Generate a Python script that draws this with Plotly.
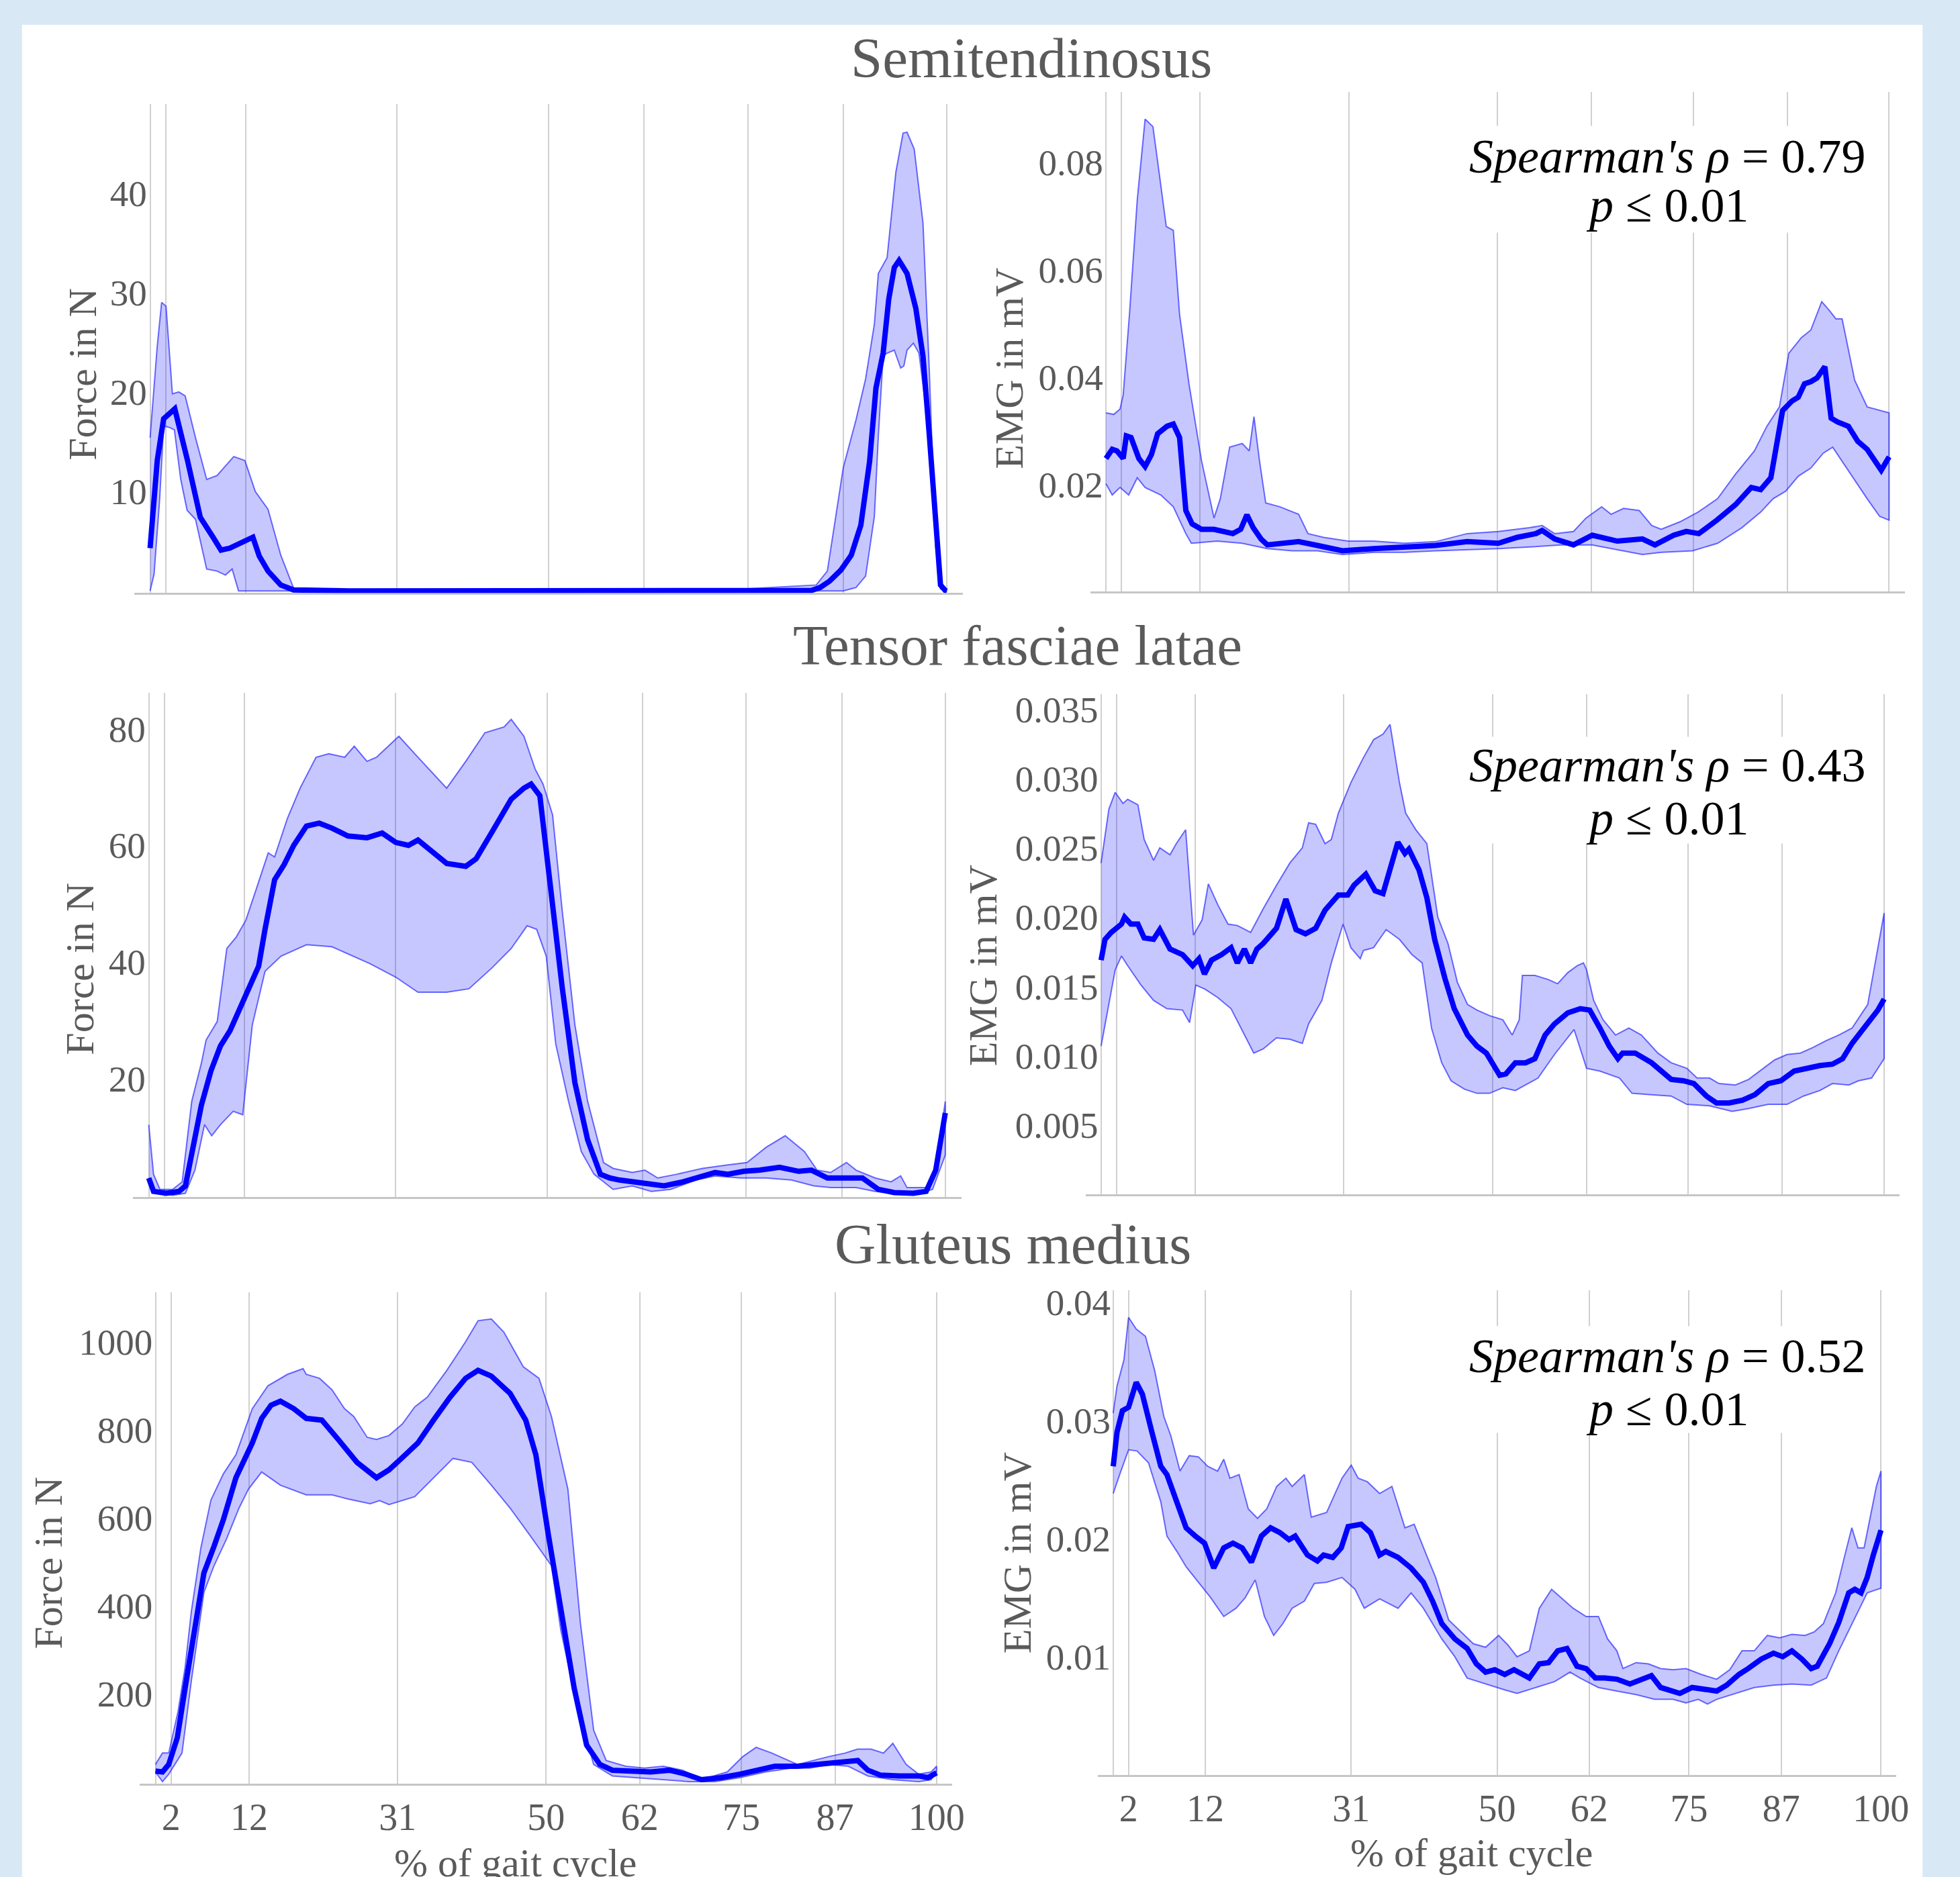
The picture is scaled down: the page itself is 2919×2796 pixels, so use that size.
import plotly.graph_objects as go

W, H = 2919, 2796

# ------------------------------------------------------------------ data
gait_ticks = [2, 12, 31, 50, 62, 75, 87, 100]

# Semitendinosus – force (N)
semi_force_mean_x = [0, 0.9, 1.7, 3.1, 4.7, 6.3, 7.9, 8.9, 10.0, 11.6, 12.9, 13.7, 14.8, 16.4, 18.0, 25, 35, 45, 55, 65,
                     75, 83.0, 84.1, 85.3, 86.7, 88.0, 89.2, 90.3, 91.1, 92.0, 92.7, 93.4, 94.0, 95.0, 96.1, 97.0, 97.8, 98.6, 99.2, 99.8, 100]
semi_force_mean_y = [4.3, 13.1, 17.3, 18.3, 13.1, 7.4, 5.4, 4.1, 4.3, 4.9, 5.4, 3.5, 2.0, 0.6, 0.1, 0, 0, 0, 0, 0,
                     0, 0.05, 0.35, 1.0, 2.1, 3.6, 6.6, 13.0, 20.4, 23.9, 29.3, 32.5, 33.2, 31.9, 28.4, 23.6, 15.6, 6.0, 0.6, 0.05, 0]
semi_force_up_x = [0, 0.9, 1.45, 2.0, 2.8, 3.6, 4.4, 5.7, 7.1, 8.4, 10.5, 11.9, 13.2, 14.8, 16.4, 18.0, 30, 50, 70, 83.6,
                   85.0, 87.0, 88.6, 89.8, 90.9, 91.4, 92.5, 93.6, 94.5, 95.0, 95.9, 97.0, 97.8, 98.6, 99.2, 100]
semi_force_up_y = [15.4, 24.6, 29.0, 28.6, 19.8, 20.0, 19.6, 15.4, 11.2, 11.6, 13.5, 13.1, 10.0, 8.2, 3.6, 0.3, 0, 0, 0, 0.6,
                   2.0, 12.4, 17.2, 21.3, 26.8, 31.9, 33.5, 42.1, 46.0, 46.1, 44.4, 37.0, 22.0, 4.4, 0.2, 0]
semi_force_lo_x = [0, 0.5, 1.2, 1.7, 2.5, 3.05, 3.85, 4.65, 5.7, 7.1, 8.4, 9.45, 10.3, 11.1, 30, 50, 70, 87.0, 88.6, 89.8,
                   90.9, 91.4, 92.0, 92.5, 93.4, 94.2, 94.6, 95.0, 95.8, 96.5, 97.3, 98.2, 99.0, 99.5, 100]
semi_force_lo_y = [0, 1.7, 9.2, 16.6, 16.4, 16.2, 11.2, 8.1, 7.2, 2.2, 2.0, 1.6, 2.2, 0, 0, 0, 0, 0, 0.35, 1.5,
                   7.5, 15.6, 23.6, 23.9, 24.2, 22.4, 22.6, 24.2, 24.9, 23.9, 18.8, 10.8, 2.8, 0.2, 0]

# Semitendinosus – EMG (mV)
semi_emg_mean_x = [0, 0.8, 1.4, 2.2, 2.6, 3.2, 4.2, 5.0, 5.8, 6.6, 7.8, 8.6, 9.4, 10.2, 11.0, 12.2, 13.8, 15.0, 16.2, 17.2,
                   18.0, 18.8, 19.8, 20.6, 22.2, 24.6, 27.0, 30.2, 34.2, 38.1, 42.1, 46.1, 50.1, 52.5, 54.9, 55.7, 57.3, 59.7, 62.1, 65.3,
                   68.5, 70.1, 72.5, 74.1, 75.7, 78.0, 80.4, 82.4, 83.6, 84.9, 85.6, 86.4, 87.6, 88.4, 89.2, 90.0, 90.8, 91.8, 92.6, 93.4,
                   94.8, 96.0, 97.2, 99.0, 100]
semi_emg_mean_y = [0.0248, 0.0265, 0.0262, 0.0248, 0.029, 0.0287, 0.0248, 0.0233, 0.0255, 0.0294, 0.0308, 0.0312, 0.0287, 0.0151, 0.0126, 0.0116, 0.0116, 0.0112, 0.0108, 0.0116,
                   0.0143, 0.0119, 0.0098, 0.0087, 0.009, 0.0093, 0.0086, 0.0076, 0.008, 0.0083, 0.0086, 0.0093, 0.009, 0.0101, 0.0108, 0.0114, 0.0098, 0.0087, 0.0105, 0.0094,
                   0.0098, 0.0087, 0.0105, 0.0112, 0.0108, 0.0133, 0.0162, 0.0194, 0.019, 0.0212, 0.0273, 0.0337, 0.0355, 0.0362, 0.0387, 0.0391, 0.0398, 0.0419, 0.0323, 0.0316,
                   0.0308, 0.028, 0.0265, 0.0226, 0.0251]
semi_emg_up_x = [0, 1.0, 1.8, 2.2, 3.0, 4.0, 5.0, 6.0, 6.6, 7.7, 8.6, 9.4, 10.6, 12.2, 13.8, 14.6, 15.8, 17.4, 18.3, 18.9,
                 19.6, 20.4, 22.2, 24.6, 25.8, 27.8, 30.9, 34.2, 38.1, 42.1, 46.1, 50.1, 54.1, 55.7, 57.3, 59.7, 61.3, 63.3, 64.5, 66.1,
                 68.1, 69.7, 70.9, 73.3, 75.6, 78.1, 80.4, 82.8, 84.4, 86.0, 87.2, 88.8, 90.0, 91.4, 92.4, 93.2, 94.0, 95.6, 97.2, 100]
semi_emg_up_y = [0.0333, 0.033, 0.034, 0.0366, 0.0516, 0.073, 0.088, 0.0866, 0.0801, 0.068, 0.0673, 0.0516, 0.0387, 0.0244, 0.0137, 0.0173, 0.0269, 0.0276, 0.0262, 0.0326,
                 0.0244, 0.0165, 0.0158, 0.0144, 0.0108, 0.0101, 0.0094, 0.0094, 0.009, 0.0093, 0.0108, 0.0112, 0.0119, 0.0123, 0.0108, 0.0112, 0.0137, 0.0158, 0.0144, 0.0155,
                 0.0151, 0.0123, 0.0116, 0.013, 0.0148, 0.0173, 0.0219, 0.0262, 0.0308, 0.0344, 0.0444, 0.0473, 0.0487, 0.054, 0.0523, 0.0508, 0.0508, 0.0394, 0.0344, 0.0333]
semi_emg_lo_x = [0, 0.8, 1.8, 2.9, 4.0, 5.0, 7.0, 8.6, 10.2, 10.9, 14.2, 17.4, 20.6, 23.8, 27.0, 30.2, 34.2, 38.1, 42.1, 46.1,
                 50.1, 54.1, 58.1, 62.1, 66.1, 68.5, 70.9, 74.9, 78.1, 81.2, 83.6, 85.2, 86.8, 88.4, 90.0, 91.6, 92.8, 94.0, 95.6, 97.2,
                 98.8, 100]
semi_emg_lo_y = [0.0201, 0.018, 0.0194, 0.018, 0.0212, 0.0194, 0.018, 0.0158, 0.0108, 0.009, 0.0094, 0.009, 0.008, 0.0076, 0.0076, 0.0069, 0.0073, 0.0073, 0.0076, 0.0078,
                 0.008, 0.0083, 0.0087, 0.0087, 0.0076, 0.0069, 0.0073, 0.0076, 0.009, 0.0119, 0.0148, 0.0173, 0.0187, 0.0215, 0.023, 0.0258, 0.0269, 0.0244, 0.0208, 0.0173,
                 0.014, 0.0133]

# Tensor fasciae latae – force (N)
tfl_force_mean_x = [0, 0.6, 2.2, 3.8, 4.6, 5.4, 6.6, 7.8, 9.0, 10.2, 11.8, 13.8, 14.6, 15.8, 17.0, 18.2, 19.8, 21.4, 23.0, 25.0,
                    27.4, 29.3, 31.0, 32.6, 33.8, 35.8, 37.4, 39.8, 41.1, 43.1, 45.5, 47.1, 48.0, 49.1, 50.3, 51.9, 53.5, 55.1, 56.7, 57.9,
                    59.1, 60.7, 62.3, 64.7, 67.1, 69.5, 71.1, 72.7, 74.7, 76.7, 79.2, 81.6, 83.2, 85.2, 87.2, 89.6, 91.6, 93.6, 96.0, 97.6,
                    98.8, 100]
tfl_force_mean_y = [2.95, 0.66, 0.33, 0.66, 1.6, 7.5, 15.4, 21.3, 25.6, 28.2, 33.1, 39.3, 45.6, 54.1, 56.7, 60.0, 63.3, 63.8, 62.95, 61.6,
                    61.3, 62.1, 60.5, 60.0, 60.9, 58.7, 56.9, 56.4, 57.7, 62.3, 67.9, 69.8, 70.5, 68.5, 54.1, 35.7, 19.3, 9.5, 3.6, 2.95,
                    2.6, 2.3, 2.0, 1.6, 2.3, 3.3, 3.9, 3.6, 4.1, 4.3, 4.8, 4.1, 4.3, 2.95, 2.95, 2.95, 1.0, 0.46, 0.33, 0.66,
                    4.3, 14.1]
tfl_force_up_x = [0, 0.6, 1.4, 3.0, 4.2, 5.4, 6.6, 7.2, 8.6, 9.8, 11.0, 12.2, 13.4, 15.0, 15.8, 17.4, 19.0, 21.0, 22.6, 24.6,
                  25.8, 27.4, 28.6, 31.4, 33.4, 37.4, 39.8, 42.2, 44.6, 45.5, 47.1, 48.5, 49.5, 50.7, 51.9, 53.5, 55.1, 57.1, 58.3, 60.7,
                  62.3, 63.9, 66.3, 69.5, 72.7, 75.1, 77.5, 79.9, 82.3, 83.9, 85.6, 87.6, 88.8, 91.2, 93.2, 94.4, 95.2, 97.6, 98.8, 100]
tfl_force_up_y = [12.1, 3.6, 1.0, 1.0, 2.3, 16.1, 22.6, 26.6, 29.8, 42.3, 44.3, 47.2, 52.1, 58.7, 58.0, 64.6, 69.8, 75.1, 75.7, 75.1,
                  77.0, 74.4, 75.1, 78.7, 75.7, 69.8, 74.4, 79.3, 80.3, 81.6, 78.7, 73.1, 70.5, 65.2, 48.9, 29.2, 16.1, 5.6, 4.6, 3.9,
                  4.3, 2.95, 3.6, 4.6, 5.2, 5.6, 8.2, 10.2, 7.5, 4.3, 3.9, 5.6, 4.3, 2.95, 2.3, 3.3, 1.3, 1.3, 4.3, 16.1]
tfl_force_lo_x = [0, 1.0, 3.0, 4.6, 5.8, 7.0, 7.9, 9.0, 10.6, 11.8, 13.0, 14.6, 16.6, 19.8, 23.0, 27.8, 31.0, 33.8, 37.4, 40.2,
                  43.1, 45.5, 47.5, 48.7, 49.9, 51.1, 52.7, 54.3, 55.9, 58.3, 60.7, 63.1, 65.5, 68.7, 71.1, 74.3, 77.5, 80.7, 83.5, 85.6,
                  88.8, 91.2, 93.6, 96.8, 98.4, 100]
tfl_force_lo_y = [2.95, 0.33, 0, 0.33, 4.3, 12.1, 10.2, 12.1, 14.4, 13.8, 29.2, 38.4, 41.0, 42.95, 42.6, 39.7, 37.4, 34.8, 34.8, 35.4,
                  39.0, 42.3, 46.2, 45.6, 41.0, 25.9, 16.1, 7.5, 3.6, 1.0, 1.6, 0.66, 1.0, 2.6, 3.3, 2.95, 2.95, 2.6, 1.6, 1.3,
                  1.3, 0.66, 0.33, 0.33, 1.0, 6.9]

# Tensor fasciae latae – EMG (mV)
tfl_emg_mean_x = [0, 0.5, 1.3, 2.6, 3.0, 3.8, 4.7, 5.5, 6.7, 7.5, 8.8, 10.4, 11.7, 12.5, 13.2, 14.1, 15.4, 16.6, 17.4, 18.3,
                  19.1, 19.9, 20.7, 22.4, 23.6, 24.9, 26.1, 27.4, 28.6, 30.3, 31.5, 32.3, 33.8, 35.0, 36.0, 36.9, 37.9, 38.8, 39.3, 40.6,
                  41.6, 42.6, 43.9, 45.1, 46.8, 48.0, 49.2, 50.9, 51.7, 52.9, 54.2, 55.4, 56.7, 57.9, 59.6, 61.2, 62.4, 63.7, 64.9, 66.0,
                  66.6, 68.2, 70.3, 72.8, 74.4, 75.7, 77.3, 78.6, 80.2, 81.9, 83.5, 85.2, 86.8, 88.5, 90.1, 91.8, 93.4, 94.7, 95.9, 97.5,
                  99.2, 100]
tfl_emg_mean_y = [0.0169, 0.0184, 0.0189, 0.0195, 0.02, 0.0195, 0.0195, 0.0185, 0.0184, 0.0191, 0.0177, 0.0173, 0.0165, 0.017, 0.0159, 0.0169, 0.0173, 0.0178, 0.0167, 0.0177,
                  0.0167, 0.0177, 0.0181, 0.0192, 0.0213, 0.0191, 0.0188, 0.0192, 0.0205, 0.0216, 0.0216, 0.0223, 0.0231, 0.0219, 0.0217, 0.0236, 0.0254, 0.0246, 0.0249, 0.0234,
                  0.0214, 0.0184, 0.0156, 0.0134, 0.0115, 0.0107, 0.0102, 0.0086, 0.0087, 0.0095, 0.0095, 0.0098, 0.0115, 0.0123, 0.0131, 0.0134, 0.0133, 0.012, 0.0107, 0.0098,
                  0.0102, 0.0102, 0.0095, 0.0083, 0.0082, 0.008, 0.0071, 0.0066, 0.0066, 0.0068, 0.0072, 0.008, 0.0082, 0.0089, 0.0091, 0.0093, 0.0094, 0.0098, 0.0109, 0.012,
                  0.0133, 0.0141]
tfl_emg_up_x = [0, 1.0, 1.8, 2.8, 3.4, 4.7, 5.5, 6.7, 7.5, 8.8, 9.6, 10.8, 11.8, 12.9, 13.7, 14.9, 16.2, 17.4, 19.1, 20.7,
                22.4, 24.1, 25.7, 26.5, 27.4, 28.6, 29.4, 30.3, 31.1, 31.9, 32.7, 33.5, 34.8, 36.0, 36.9, 38.1, 38.9, 40.2, 41.6, 43.0,
                44.3, 45.5, 46.8, 48.0, 49.6, 51.3, 52.5, 53.4, 53.8, 55.4, 57.1, 58.3, 59.6, 60.8, 61.6, 62.0, 62.9, 64.1, 65.7, 67.4,
                69.0, 71.1, 72.8, 74.8, 76.1, 77.7, 78.9, 81.0, 82.7, 84.3, 86.0, 87.6, 89.3, 90.9, 92.6, 94.2, 95.9, 97.9, 99.2, 100]
tfl_emg_up_y = [0.0239, 0.0278, 0.029, 0.0282, 0.0285, 0.0281, 0.0256, 0.0241, 0.025, 0.0245, 0.0253, 0.0263, 0.0187, 0.0198, 0.0224, 0.0209, 0.0195, 0.0194, 0.0189, 0.0206,
                0.0223, 0.0239, 0.025, 0.0268, 0.0267, 0.0253, 0.0256, 0.0275, 0.0286, 0.0297, 0.0306, 0.0315, 0.0328, 0.0332, 0.0339, 0.0297, 0.0275, 0.0263, 0.0253, 0.02,
                0.0181, 0.0153, 0.0137, 0.0133, 0.0129, 0.0126, 0.0115, 0.0126, 0.0158, 0.0158, 0.0155, 0.0152, 0.016, 0.0165, 0.0167, 0.0162, 0.014, 0.0126, 0.0115, 0.012,
                0.0115, 0.0102, 0.0095, 0.0091, 0.0084, 0.0084, 0.008, 0.0079, 0.0083, 0.009, 0.0097, 0.0101, 0.0102, 0.0106, 0.0111, 0.0115, 0.012, 0.0137, 0.0178, 0.0203]
tfl_emg_lo_x = [0, 1.0, 1.8, 2.6, 3.4, 5.1, 6.7, 8.4, 10.4, 11.3, 12.1, 13.3, 14.9, 16.6, 18.3, 19.5, 20.7, 22.4, 24.1, 25.7,
                26.5, 28.2, 29.4, 30.3, 30.9, 31.9, 33.1, 33.5, 34.8, 36.4, 38.1, 39.7, 41.0, 42.2, 43.5, 44.7, 46.4, 48.0, 49.6, 51.3,
                52.9, 54.2, 55.8, 57.9, 60.4, 62.0, 63.7, 66.2, 67.8, 70.3, 72.8, 74.8, 77.7, 80.6, 82.7, 85.2, 87.6, 89.7, 91.8, 93.4,
                95.5, 96.7, 98.4, 100]
tfl_emg_lo_y = [0.0107, 0.0137, 0.0162, 0.0172, 0.0165, 0.0151, 0.014, 0.0134, 0.0133, 0.0124, 0.0151, 0.0148, 0.0142, 0.0134, 0.0115, 0.0102, 0.0105, 0.0113, 0.0112, 0.0109,
                0.0123, 0.014, 0.0167, 0.0184, 0.0195, 0.0178, 0.017, 0.0176, 0.0178, 0.0191, 0.0184, 0.0173, 0.0167, 0.012, 0.0095, 0.0082, 0.0076, 0.0073, 0.0073, 0.0077,
                0.0075, 0.0079, 0.0084, 0.0101, 0.0119, 0.0091, 0.0089, 0.0084, 0.0073, 0.0072, 0.0071, 0.0065, 0.0064, 0.006, 0.0062, 0.0065, 0.0065, 0.0071, 0.0075, 0.008,
                0.0079, 0.0082, 0.0084, 0.0098]

# Gluteus medius – force (N)
glu_force_mean_x = [0, 0.9, 1.7, 2.8, 3.8, 5.0, 6.2, 7.5, 8.7, 10.3, 12.4, 13.6, 14.8, 16.0, 17.7, 19.3, 21.3, 23.4, 25.8, 28.3,
                    29.9, 31.5, 33.6, 35.6, 37.7, 39.7, 41.3, 43.0, 45.4, 47.4, 48.7, 50.3, 51.9, 53.6, 55.2, 56.9, 58.5, 60.9, 63.4, 65.8,
                    67.9, 69.9, 72.4, 74.8, 77.3, 79.3, 82.2, 84.6, 86.2, 87.8, 89.9, 91.2, 92.8, 95.2, 97.7, 98.9, 100]
glu_force_mean_y = [24, 22, 39, 100, 213, 344, 474, 535, 596, 691, 770, 826, 856, 865, 848, 826, 822, 778, 726, 691,
                    709, 735, 770, 822, 874, 917, 935, 922, 883, 822, 743, 561, 387, 213, 83, 39, 26, 24, 22, 26,
                    17, 4.5, 9, 17, 26, 35, 35, 39, 44, 44, 48, 26, 15, 13, 13, 9, 20]
glu_force_up_x = [0, 0.9, 1.7, 2.9, 3.8, 4.6, 5.8, 7.1, 8.7, 10.3, 12.4, 14.4, 16.9, 18.9, 19.3, 21.0, 22.6, 24.2, 25.4, 27.1,
                  28.3, 29.9, 31.6, 33.2, 34.8, 37.3, 39.7, 41.3, 43.0, 44.6, 47.1, 49.1, 50.7, 52.8, 54.4, 56.1, 57.7, 60.2, 62.6, 65.0,
                  67.5, 69.9, 73.2, 75.2, 76.9, 78.9, 82.2, 84.2, 86.2, 88.3, 89.9, 91.6, 93.2, 94.4, 96.1, 97.7, 99.3, 100]
glu_force_up_y = [39, 65, 65, 160, 260, 387, 530, 640, 700, 743, 848, 900, 926, 939, 926, 917, 891, 848, 830, 783,
                  778, 787, 813, 852, 874, 935, 1000, 1048, 1052, 1022, 943, 917, 830, 665, 361, 117, 48, 35, 31, 35,
                  26, 4.5, 22, 57, 78, 65, 39, 48, 57, 65, 74, 74, 65, 87, 39, 17, 22, 35]
glu_force_lo_x = [0, 0.9, 1.7, 3.4, 4.6, 6.2, 7.5, 9.1, 10.7, 11.9, 13.6, 16.0, 19.3, 22.6, 24.6, 27.5, 28.7, 29.9, 33.2, 35.6,
                  38.1, 40.5, 43.0, 45.4, 47.9, 50.7, 51.9, 54.0, 56.1, 58.5, 61.8, 65.0, 68.3, 71.6, 74.8, 78.1, 81.4, 83.8, 86.2, 88.7,
                  91.2, 94.4, 97.7, 99.3, 100]
glu_force_lo_y = [22, 0, 17, 65, 230, 430, 491, 552, 622, 665, 704, 674, 652, 652, 643, 632, 639, 630, 648, 691,
                  735, 726, 674, 622, 561, 491, 344, 170, 39, 13, 9, 4.5, 0, 0, 9, 22, 31, 31, 39, 35,
                  13, 4.5, 0, 4.5, 22]

# Gluteus medius – EMG (mV)
glu_emg_mean_x = [0, 0.5, 1.2, 2.0, 3.0, 3.8, 5.0, 6.2, 7.0, 8.3, 9.5, 10.7, 11.9, 13.1, 14.4, 15.6, 16.8, 18.0, 19.3, 20.5,
                  21.7, 22.9, 23.7, 25.3, 26.6, 27.4, 28.6, 29.7, 30.6, 32.3, 33.5, 34.7, 35.5, 37.1, 38.8, 40.4, 41.6, 42.8, 44.5, 46.1,
                  47.3, 48.5, 49.7, 51.0, 52.2, 54.2, 55.5, 56.7, 57.9, 59.1, 60.4, 61.6, 62.8, 64.0, 65.6, 67.3, 68.9, 70.1, 71.3, 72.6,
                  73.8, 75.4, 77.0, 78.6, 79.9, 81.5, 82.7, 84.4, 86.0, 87.2, 88.4, 89.7, 90.9, 91.7, 93.3, 94.5, 95.8, 96.6, 97.4, 98.2,
                  99.0, 100]
glu_emg_mean_y = [0.0261, 0.029, 0.0308, 0.0311, 0.0332, 0.0322, 0.0291, 0.0261, 0.0254, 0.0231, 0.0209, 0.0202, 0.0196, 0.0175, 0.0192, 0.0196, 0.0192, 0.018, 0.0202, 0.0209,
                  0.0205, 0.0199, 0.0202, 0.0186, 0.0181, 0.0186, 0.0184, 0.0192, 0.021, 0.0212, 0.0205, 0.0186, 0.0189, 0.0184, 0.0175, 0.0163, 0.0147, 0.0128, 0.0115, 0.0107,
                  0.0094, 0.0087, 0.0089, 0.0085, 0.0089, 0.0082, 0.0094, 0.0095, 0.0105, 0.0107, 0.0092, 0.009, 0.0082, 0.0082, 0.0081, 0.0077, 0.0081, 0.0084, 0.0074, 0.0071,
                  0.0069, 0.0074, 0.0072, 0.0071, 0.0076, 0.0085, 0.009, 0.0098, 0.0103, 0.01, 0.0105, 0.0098, 0.009, 0.0092, 0.0111, 0.0129, 0.0154, 0.0157, 0.0154, 0.0167,
                  0.0186, 0.0207]
glu_emg_up_x = [0, 0.5, 1.4, 2.0, 3.0, 4.2, 5.4, 6.6, 7.5, 8.7, 9.9, 11.1, 12.3, 13.6, 14.4, 15.2, 16.4, 17.6, 18.8, 20.0,
                21.3, 22.5, 23.3, 24.9, 25.8, 27.8, 29.8, 31.0, 31.9, 33.1, 34.7, 36.3, 38.0, 39.2, 40.8, 42.0, 43.7, 45.3, 46.9, 48.5,
                50.2, 51.4, 52.6, 54.2, 55.5, 57.1, 58.3, 59.9, 61.6, 63.2, 64.4, 65.6, 66.4, 68.1, 69.7, 71.3, 72.9, 74.6, 76.6, 78.6,
                80.3, 81.9, 83.5, 85.2, 86.8, 88.4, 90.1, 91.3, 92.5, 94.1, 95.3, 96.2, 97.0, 97.8, 98.6, 99.4, 100]
glu_emg_up_y = [0.0306, 0.0329, 0.0351, 0.0387, 0.0377, 0.0371, 0.0342, 0.0303, 0.0287, 0.0257, 0.027, 0.0269, 0.0261, 0.0257, 0.0267, 0.0251, 0.0254, 0.0225, 0.0217, 0.0225,
                0.0244, 0.0251, 0.0244, 0.0254, 0.0218, 0.0222, 0.0251, 0.0262, 0.0251, 0.0248, 0.0238, 0.0244, 0.0209, 0.0212, 0.0186, 0.0167, 0.0131, 0.0121, 0.0111, 0.0108,
                0.0118, 0.011, 0.01, 0.0105, 0.0141, 0.0157, 0.015, 0.0141, 0.0134, 0.0134, 0.0115, 0.0105, 0.009, 0.0095, 0.0094, 0.009, 0.0089, 0.009, 0.0085, 0.0081,
                0.0089, 0.0105, 0.0105, 0.0118, 0.0116, 0.0119, 0.0118, 0.0121, 0.0128, 0.0154, 0.0186, 0.0209, 0.0192, 0.0192, 0.0218, 0.0244, 0.0257]
glu_emg_lo_x = [0, 1.0, 2.0, 3.1, 4.6, 6.2, 7.0, 8.3, 9.5, 11.1, 12.7, 14.4, 16.0, 17.2, 18.5, 19.7, 20.9, 22.1, 23.3, 24.9,
                26.2, 27.8, 29.8, 31.5, 32.7, 34.7, 37.1, 38.8, 40.4, 41.6, 42.8, 44.5, 46.1, 48.5, 51.0, 52.6, 55.1, 57.5, 59.5, 60.8,
                63.2, 65.6, 68.1, 70.5, 72.9, 74.6, 76.2, 77.4, 78.6, 81.1, 83.5, 86.0, 88.4, 90.9, 92.9, 94.5, 96.2, 98.2, 100]
glu_emg_lo_y = [0.0238, 0.0257, 0.0275, 0.0274, 0.0264, 0.0231, 0.0202, 0.0189, 0.0176, 0.0163, 0.015, 0.0134, 0.0141, 0.015, 0.0165, 0.0134, 0.0118, 0.0128, 0.0141, 0.0147,
                0.0162, 0.0163, 0.0167, 0.0157, 0.0141, 0.0149, 0.0141, 0.0154, 0.0141, 0.0128, 0.0115, 0.01, 0.0082, 0.0077, 0.0072, 0.0069, 0.0074, 0.0079, 0.0087, 0.0082,
                0.0074, 0.0071, 0.0068, 0.0064, 0.0064, 0.0061, 0.0064, 0.006, 0.0064, 0.0069, 0.0074, 0.0076, 0.0077, 0.0076, 0.0082, 0.0105, 0.0128, 0.0154, 0.0158]

# tick values
semi_force_ticks = [10, 20, 30, 40]
semi_emg_ticks = [0.02, 0.04, 0.06, 0.08]
tfl_force_ticks = [20, 40, 60, 80]
tfl_emg_ticks = [0.005, 0.010, 0.015, 0.020, 0.025, 0.030, 0.035]
glu_force_ticks = [200, 400, 600, 800, 1000]
glu_emg_ticks = [0.01, 0.02, 0.03, 0.04]

muscles = ["Semitendinosus", "Tensor fasciae latae", "Gluteus medius"]
spearman_rho = ["0.79", "0.43", "0.52"]
p_values = ["0.01", "0.01", "0.01"]

# ------------------------------------------------------------------ style
FONT = "Liberation Serif"
GREY = "#5a5a5a"
GRID = "#d0d0d0"
AXLINE = "#c6c6c6"
MEAN_C = "#0000ff"
BAND_FILL = "rgba(0,0,255,0.22)"
BAND_LINE = "rgba(30,30,255,0.65)"

# panel boxes in pixels: (left, top, right, bottom)
panels = [
    dict(mean=(semi_force_mean_x, semi_force_mean_y), up=(semi_force_up_x, semi_force_up_y), lo=(semi_force_lo_x, semi_force_lo_y),
         box=(201.1, 144, 1443.3, 875), yr=[-0.2, 48.9], ticks=semi_force_ticks, fmt="d", xlab=False,
         ytitle="Force in N", yt=(123, 548)),
    dict(mean=(semi_emg_mean_x, semi_emg_mean_y), up=(semi_emg_up_x, semi_emg_up_y), lo=(semi_emg_lo_x, semi_emg_lo_y),
         box=(1634.4, 126, 2855.3, 873), yr=[0, 0.093], ticks=semi_emg_ticks, fmt=".2f", xlab=False,
         ytitle="EMG in mV", yt=(1513, 539)),
    dict(mean=(tfl_force_mean_x, tfl_force_mean_y), up=(tfl_force_up_x, tfl_force_up_y), lo=(tfl_force_lo_x, tfl_force_lo_y),
         box=(199.1, 1024, 1440.9, 1779), yr=[-0.34, 86.2], ticks=tfl_force_ticks, fmt="d", xlab=False,
         ytitle="Force in N", yt=(119.6, 1437)),
    dict(mean=(tfl_emg_mean_x, tfl_emg_mean_y), up=(tfl_emg_up_x, tfl_emg_up_y), lo=(tfl_emg_lo_x, tfl_emg_lo_y),
         box=(1627.1, 1026, 2847.9, 1775), yr=[0, 0.0361], ticks=tfl_emg_ticks, fmt=".3f", xlab=False,
         ytitle="EMG in mV", yt=(1473, 1432)),
    dict(mean=(glu_force_mean_x, glu_force_mean_y), up=(glu_force_up_x, glu_force_up_y), lo=(glu_force_lo_x, glu_force_lo_y),
         box=(209.6, 1921, 1427.4, 2656.3), yr=[-4.5, 1113], ticks=glu_force_ticks, fmt="d", xlab=True,
         ytitle="Force in N", yt=(72, 2326)),
    dict(mean=(glu_emg_mean_x, glu_emg_mean_y), up=(glu_emg_up_x, glu_emg_up_y), lo=(glu_emg_lo_x, glu_emg_lo_y),
         box=(1645.7, 1918, 2842.7, 2643.4), yr=[0, 0.041], ticks=glu_emg_ticks, fmt=".2f", xlab=True,
         ytitle="EMG in mV", yt=(1525, 2311)),
]

def px(x):
    return x / W

def py(y):
    return 1 - y / H

fig = go.Figure()
layout = {}
annotations = []

for i, p in enumerate(panels):
    for a, b in (p["mean"], p["up"], p["lo"]):
        assert len(a) == len(b), (i, len(a), len(b))
    n = "" if i == 0 else str(i + 1)
    xa, ya = "x" + n, "y" + n
    bx = list(p["up"][0]) + list(p["lo"][0])[::-1]
    by = list(p["up"][1]) + list(p["lo"][1])[::-1]
    fig.add_trace(go.Scatter(x=bx, y=by, mode="lines", fill="toself", fillcolor=BAND_FILL,
                             line=dict(color=BAND_LINE, width=2), xaxis=xa, yaxis=ya,
                             showlegend=False, hoverinfo="skip"))
    fig.add_trace(go.Scatter(x=p["mean"][0], y=p["mean"][1], mode="lines",
                             line=dict(color=MEAN_C, width=8), xaxis=xa, yaxis=ya, showlegend=False))
    l, t, r, b = p["box"]
    layout["xaxis" + n] = dict(
        domain=[px(l), px(r)], anchor=ya, range=[-2, 102], tickvals=gait_ticks,
        showticklabels=p["xlab"], showgrid=True, gridcolor=GRID, gridwidth=2,
        zeroline=True, zerolinecolor=GRID, zerolinewidth=2,
        showline=True, linecolor=AXLINE, linewidth=3, layer="below traces",
        ticks="", tickfont=dict(family=FONT, size=56, color=GREY), ticklabelstandoff=-1,
        fixedrange=True)
    layout["yaxis" + n] = dict(
        domain=[py(b), py(t)], anchor=xa, range=p["yr"], tickvals=p["ticks"], tickformat=p["fmt"],
        showgrid=False, zeroline=False, showline=False, ticks="",
        tickfont=dict(family=FONT, size=55, color=GREY), ticklabelstandoff=-20, fixedrange=True)
    annotations.append(dict(text=p["ytitle"], xref="paper", yref="paper", x=px(p["yt"][0]), y=py(p["yt"][1]),
                            xanchor="center", yanchor="middle", textangle=-90, showarrow=False,
                            font=dict(family=FONT, size=60, color=GREY)))

# muscle titles
for name, (cx, cy) in zip(muscles, [(1546, 74), (1525, 953), (1518, 1849)]):
    annotations.append(dict(text=name, xref="paper", yref="paper", x=px(cx), y=py(cy),
                            xanchor="center", yanchor="middle", showarrow=False,
                            font=dict(family=FONT, size=85, color=GREY)))

# x axis titles (bottom row)
for cx, top in [(772.7, 2741), (2206, 2726)]:
    annotations.append(dict(text="% of gait cycle", xref="paper", yref="paper", x=px(cx), y=py(top),
                            xanchor="center", yanchor="top", showarrow=False, borderpad=0,
                            font=dict(family=FONT, size=60, color=GREY)))

# statistics boxes (white background hiding grid lines) + text
for rho, pv, box_cy, l1, l2 in zip(spearman_rho, p_values, [256.5, 1170, 2052],
                                   [222, 1133, 2017], [295, 1212, 2096]):
    annotations.append(dict(text=" ", xref="paper", yref="paper", x=px(2500), y=py(box_cy),
                            xanchor="center", yanchor="middle", showarrow=False, width=630, height=158,
                            bgcolor="white", borderpad=0, font=dict(size=10)))
    annotations.append(dict(text="<i>Spearman's ρ</i> = " + rho, xref="paper", yref="paper",
                            x=px(2500), y=py(l1), xanchor="center", yanchor="middle", showarrow=False,
                            font=dict(family=FONT, size=72, color="black")))
    annotations.append(dict(text="<i>p</i> ≤ " + pv, xref="paper", yref="paper",
                            x=px(2500), y=py(l2), xanchor="center", yanchor="middle", showarrow=False,
                            font=dict(family=FONT, size=72, color="black")))

fig.update_layout(
    width=W, height=H, margin=dict(l=0, r=0, t=0, b=0, pad=0),
    paper_bgcolor="#d8e9f5", plot_bgcolor="rgba(0,0,0,0)",
    showlegend=False, annotations=annotations,
    shapes=[dict(type="rect", xref="paper", yref="paper", x0=px(33), x1=px(2882), y0=-0.01, y1=py(25),
                 fillcolor="white", line=dict(width=0), layer="below")],
    **layout,
)

fig.write_html("out.html", config={"displayModeBar": False},
               post_script="document.body.style.margin='0px';document.body.style.overflow='hidden';")
